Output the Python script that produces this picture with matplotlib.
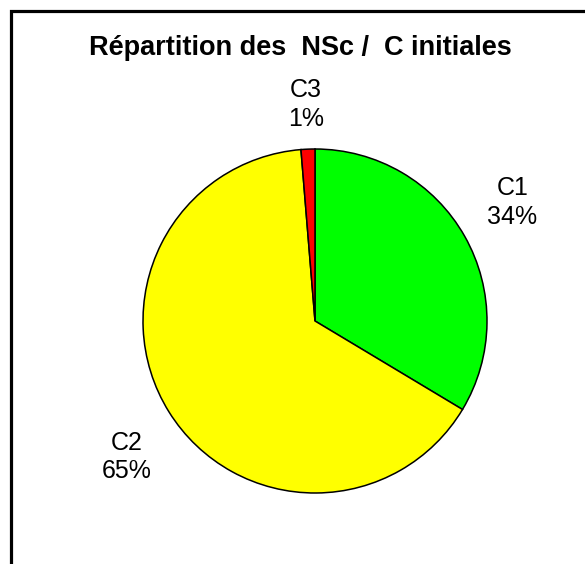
import numpy as np
import matplotlib.pyplot as plt
from matplotlib.patches import Rectangle

plt.rcParams['font.family'] = ['Liberation Sans', 'DejaVu Sans']

# Data
categories = ['C1', 'C2', 'C3']
shares = [33.6, 65.1, 1.3]
colors = ['#00ff00', '#ffff00', '#ff0000']
title = 'Répartition des  NSc /  C initiales'

# label distance from centre (pie radii) and small angle tweak (degrees)
label_dist = [1.34, 1.35, 1.26]
label_turn = [1.5, 4.0, 0.0]

W, H = 585, 564
fig = plt.figure(figsize=(W / 100, H / 100), dpi=100)

# Outer frame (right and bottom edges fall outside the image)
fig.patches.append(Rectangle((11 / W, -0.1), 1.2, 1 - 11 / H + 0.1,
                             transform=fig.transFigure, fill=False,
                             edgecolor='black', linewidth=2.3))

# Pie axes: centre ~(315, 321) px, radius ~172 px
cx, cy, r = 315, 321, 172
ax = fig.add_axes([(cx - r) / W, (H - cy - r) / H, 2 * r / W, 2 * r / H])

total = sum(shares)
labels = [f'{c}\n{round(v / total * 100):.0f}%' for c, v in zip(categories, shares)]
wedges, texts = ax.pie(shares, colors=colors, labels=labels, startangle=90,
                       counterclock=False, labeldistance=1.0,
                       wedgeprops=dict(edgecolor='black', linewidth=1.1),
                       textprops=dict(fontsize=18, linespacing=1.25))
for t, d, turn in zip(texts, label_dist, label_turn):
    x, y = t.get_position()
    a = np.arctan2(y, x) + np.radians(turn)
    t.set_position((d * np.cos(a), d * np.sin(a)))
    t.set_ha('center')
    t.set_va('center')
ax.set_xlim(-1, 1)
ax.set_ylim(-1, 1)
ax.set_aspect('equal')

fig.text(300 / W, 1 - 48 / H, title, ha='center', va='center',
         fontsize=19.5, fontweight='bold')

fig.savefig('out.png', dpi=100)
